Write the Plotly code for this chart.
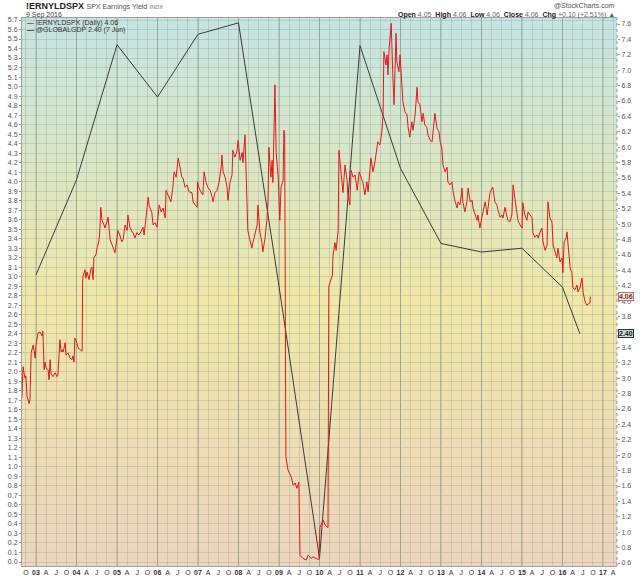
import plotly.graph_objects as go

# !ERNYLDSPX - SPX earnings yield, daily (right scale); dates are decimal years
eyield_dates = [
    2002.65, 2002.68, 2002.70, 2002.73, 2002.75, 2002.78, 2002.83, 2002.85, 2002.88, 2002.90, 2002.93, 2002.98,
    2003.00, 2003.05, 2003.10, 2003.15, 2003.17, 2003.20, 2003.22, 2003.25, 2003.30, 2003.32, 2003.35, 2003.37,
    2003.42, 2003.47, 2003.52, 2003.54, 2003.59, 2003.62, 2003.64, 2003.67, 2003.72, 2003.74, 2003.79, 2003.84,
    2003.89, 2003.91, 2003.94, 2003.96,
    2004.01, 2004.04, 2004.09, 2004.14, 2004.15, 2004.16, 2004.21, 2004.23, 2004.26, 2004.31, 2004.36, 2004.38,
    2004.41, 2004.43, 2004.48, 2004.51, 2004.55, 2004.57, 2004.60, 2004.63, 2004.68, 2004.70, 2004.75, 2004.78,
    2004.83, 2004.88, 2004.93, 2004.95,
    2005.00, 2005.02, 2005.07, 2005.12, 2005.15, 2005.20, 2005.25, 2005.27, 2005.32, 2005.37, 2005.40, 2005.44,
    2005.49, 2005.54, 2005.59, 2005.64, 2005.67, 2005.72, 2005.77, 2005.79, 2005.86, 2005.89, 2005.94, 2005.99,
    2006.04, 2006.09, 2006.14, 2006.19, 2006.21, 2006.26, 2006.33, 2006.38, 2006.41, 2006.46, 2006.51, 2006.56,
    2006.60, 2006.63, 2006.68, 2006.73, 2006.78, 2006.85, 2006.88, 2006.93, 2006.98, 2006.99,
    2007.02, 2007.07, 2007.12, 2007.15, 2007.20, 2007.25, 2007.30, 2007.35, 2007.37, 2007.42, 2007.47, 2007.52,
    2007.57, 2007.59, 2007.62, 2007.67, 2007.72, 2007.74, 2007.79, 2007.84, 2007.86, 2007.91, 2007.96, 2007.99,
    2008.04, 2008.09, 2008.11, 2008.16, 2008.21, 2008.23, 2008.28, 2008.33, 2008.36, 2008.41, 2008.46, 2008.48,
    2008.53, 2008.58, 2008.60, 2008.65, 2008.70, 2008.73, 2008.75, 2008.80, 2008.83, 2008.85, 2008.88, 2008.90,
    2008.93, 2008.95, 2008.98,
    2009.02, 2009.05, 2009.10, 2009.12, 2009.14, 2009.15, 2009.17, 2009.22, 2009.30, 2009.35, 2009.40, 2009.44,
    2009.49, 2009.52, 2009.59, 2009.67, 2009.72, 2009.79, 2009.84, 2009.94, 2009.99,
    2010.01, 2010.09, 2010.14, 2010.21, 2010.23, 2010.28, 2010.32, 2010.33, 2010.38, 2010.41, 2010.43, 2010.46,
    2010.48, 2010.53, 2010.56, 2010.58, 2010.63, 2010.68, 2010.70, 2010.75, 2010.78, 2010.83, 2010.88, 2010.93,
    2010.98,
    2011.00, 2011.05, 2011.07, 2011.12, 2011.17, 2011.20, 2011.27, 2011.32, 2011.37, 2011.42, 2011.44, 2011.49,
    2011.54, 2011.57, 2011.59, 2011.64, 2011.67, 2011.69, 2011.72, 2011.77, 2011.79, 2011.81, 2011.84, 2011.86,
    2011.89, 2011.91, 2011.96, 2011.99,
    2012.04, 2012.06, 2012.11, 2012.16, 2012.19, 2012.23, 2012.28, 2012.31, 2012.36, 2012.41, 2012.43, 2012.48,
    2012.53, 2012.56, 2012.60, 2012.65, 2012.68, 2012.73, 2012.78, 2012.80, 2012.85, 2012.90, 2012.95, 2012.98,
    2013.02, 2013.05, 2013.10, 2013.15, 2013.17, 2013.22, 2013.27, 2013.30, 2013.35, 2013.40, 2013.42, 2013.47,
    2013.52, 2013.54, 2013.59, 2013.64, 2013.67, 2013.72, 2013.77, 2013.79, 2013.84, 2013.89, 2013.91, 2013.96,
    2014.01, 2014.04, 2014.09, 2014.14, 2014.16, 2014.21, 2014.26, 2014.28, 2014.33, 2014.38, 2014.41, 2014.46,
    2014.51, 2014.53, 2014.58, 2014.63, 2014.65, 2014.70, 2014.75, 2014.78, 2014.83, 2014.88, 2014.90, 2014.95,
    2015.00, 2015.02, 2015.07, 2015.12, 2015.15, 2015.20, 2015.25, 2015.27, 2015.32, 2015.37, 2015.40, 2015.44,
    2015.49, 2015.52, 2015.57, 2015.62, 2015.64, 2015.69, 2015.74, 2015.77, 2015.81, 2015.86, 2015.89, 2015.94,
    2015.99,
    2016.01, 2016.04, 2016.09, 2016.11, 2016.14, 2016.19, 2016.23, 2016.26, 2016.31, 2016.36, 2016.38, 2016.43,
    2016.48, 2016.51, 2016.56, 2016.60, 2016.63, 2016.68, 2016.69,
]
eyield_values = [
    2.74, 3.15, 3.08, 3.00, 3.03, 2.76, 2.67, 2.72, 3.33, 3.39, 3.43, 3.26,
    3.43, 3.59, 3.60, 3.55, 3.61, 3.11, 3.21, 3.13, 3.11, 2.98, 3.24, 3.06,
    3.02, 3.07, 3.02, 3.04, 3.50, 3.34, 3.37, 3.34, 3.46, 3.30, 3.33, 3.26,
    3.24, 3.29, 3.21, 3.52,
    3.46, 3.39, 3.37, 3.35, 4.25, 4.32, 4.41, 4.30, 4.38, 4.28, 4.43, 4.44,
    4.28, 4.57, 4.60, 4.70, 4.77, 4.86, 5.22, 5.05, 4.99, 4.95, 5.03, 5.09,
    4.80, 4.73, 4.66, 4.63,
    4.82, 4.92, 4.86, 4.77, 4.80, 4.99, 4.92, 5.12, 4.96, 4.90, 4.89, 4.82,
    4.89, 4.86, 4.90, 4.96, 4.86, 5.16, 5.35, 5.25, 5.15, 4.99, 5.02, 4.96,
    5.25, 5.16, 5.21, 5.08, 5.44, 5.38, 5.29, 5.48, 5.68, 5.61, 5.86, 5.73,
    5.61, 5.60, 5.48, 5.51, 5.42, 5.41, 5.29, 5.25, 5.22, 5.55,
    5.48, 5.42, 5.38, 5.68, 5.54, 5.47, 5.44, 5.35, 5.29, 5.41, 5.44, 5.54,
    5.73, 5.90, 5.68, 5.61, 5.47, 5.31, 5.54, 5.64, 5.96, 5.87, 5.94, 6.09,
    5.83, 5.93, 5.80, 6.16, 5.05, 4.92, 4.80, 4.69, 4.77, 4.89, 4.99, 5.25,
    4.89, 4.76, 4.64, 4.80, 5.05, 5.31, 6.00, 5.61, 5.83, 5.54, 6.26, 6.81,
    5.93, 5.83, 5.61,
    5.05, 5.48, 5.57, 6.22, 6.18, 2.55, 1.98, 1.81, 1.72, 1.61, 1.64, 1.57,
    1.65, 0.70, 0.66, 0.64, 0.70, 0.66, 0.68, 0.65, 0.65,
    1.06, 1.16, 1.09, 1.06, 4.19, 4.28, 4.34, 4.57, 4.76, 4.66, 4.80, 4.92,
    5.96, 5.70, 5.57, 5.41, 5.77, 5.57, 5.38, 5.25, 5.70, 5.61, 5.64, 5.44,
    5.68,
    5.64, 5.57, 5.55, 5.38, 5.55, 5.42, 5.86, 5.68, 5.81, 5.99, 6.07, 6.03,
    6.20, 6.42, 7.24, 7.07, 7.20, 6.94, 7.29, 7.61, 7.11, 6.94, 6.55, 6.85,
    7.48, 7.11, 6.98, 7.20,
    6.81, 6.59, 6.46, 6.42, 6.25, 6.13, 6.33, 6.22, 6.42, 6.78, 6.59, 6.55,
    6.33, 6.44, 6.29, 6.26, 6.16, 6.09, 6.07, 6.16, 6.44, 6.25, 6.20, 6.07,
    5.99, 5.77, 5.68, 5.74, 5.55, 5.51, 5.55, 5.42, 5.29, 5.21, 5.29, 5.25,
    5.47, 5.29, 5.16, 5.29, 5.47, 5.29, 5.31, 5.21, 5.12, 5.05, 5.12, 4.95,
    5.09, 5.16, 5.29, 5.12, 5.21, 5.41, 5.47, 5.48, 5.29, 5.25, 5.18, 5.09,
    5.12, 5.08, 5.22, 5.12, 5.05, 5.03, 5.12, 5.51, 5.29, 5.12, 5.05, 4.99,
    4.95, 5.28, 5.12, 5.05, 5.16, 5.12, 5.08, 4.89, 4.83, 4.86, 4.82, 4.89,
    4.95, 4.77, 4.66, 4.73, 5.29, 5.08, 5.03, 4.73, 4.64, 4.56, 4.69, 4.51,
    4.56,
    4.37, 4.77, 4.82, 4.90, 4.69, 4.43, 4.37, 4.17, 4.15, 4.21, 4.12, 4.17,
    4.30, 4.11, 3.99, 3.95, 3.96, 3.98, 4.06,
]

# @GLOBALGDP (left scale), one point per year, last one 7 Jun 2016
gdp_dates = [2003.0, 2004.0, 2005.0, 2006.0, 2007.0, 2008.0, 2009.0, 2010.0,
             2011.0, 2012.0, 2013.0, 2014.0, 2015.0, 2016.0, 2016.43]
gdp_values = [3.02, 4.02, 5.44, 4.89, 5.55, 5.67, 2.90, 0.04,
              5.43, 4.14, 3.35, 3.26, 3.30, 2.89, 2.40]

# x axis: quarterly labels, year labels in bold
first_year, last_year = 2002, 2017
month_letters = {0.25: "A", 0.5: "J", 0.75: "O"}

FONT = "Arial, Liberation Sans, sans-serif"
RED = "#e0191b"

tick_vals, tick_text = [], []
for yr in range(first_year, last_year + 1):
    for q in (0.0, 0.25, 0.5, 0.75):
        v = yr + q
        if v < 2002.7 or v > 2017.3:
            continue
        tick_vals.append(v)
        tick_text.append(f"<b>{yr % 100:02d}</b>" if q == 0 else month_letters[q])

left_ticks = [round(i * 0.1, 1) for i in range(58)]
right_ticks = [round(0.6 + i * 0.2, 1) for i in range(36)]
# the 2.40 value tag sits on top of the 3.6 label on the right scale
right_text = ["" if v == 3.6 else f"{v:.1f}" for v in right_ticks]

fig = go.Figure()
fig.add_trace(go.Scatter(x=eyield_dates, y=eyield_values, yaxis="y2", mode="lines",
                         line=dict(color=RED, width=1), hoverinfo="skip", showlegend=False))
fig.add_trace(go.Scatter(x=gdp_dates, y=gdp_values, mode="lines",
                         line=dict(color="#3a3a3a", width=1), hoverinfo="skip", showlegend=False))

# background gradient teal -> yellow -> peach (paper units, bottom to top)
stops = [(0.0, (236, 212, 190)), (0.48, (240, 231, 168)), (1.0, (197, 228, 227))]


def grad(t):
    for (t0, c0), (t1, c1) in zip(stops, stops[1:]):
        if t0 <= t <= t1:
            f = (t - t0) / (t1 - t0)
            return "rgb(%d,%d,%d)" % tuple(round(a + (b - a) * f) for a, b in zip(c0, c1))
    return "rgb(%d,%d,%d)" % stops[-1][1]


shapes = []
n = 90
for i in range(n):
    shapes.append(dict(type="rect", xref="paper", yref="paper", x0=0, x1=1,
                       y0=i / n, y1=(i + 1) / n + 0.002, fillcolor=grad((i + 0.5) / n),
                       line=dict(width=0), layer="below"))
for yr in range(2003, 2018):
    shapes.append(dict(type="line", xref="x", yref="paper", x0=yr, x1=yr, y0=0, y1=1,
                       line=dict(color="rgba(120,135,120,0.55)", width=1), layer="between"))
shapes.append(dict(type="line", xref="paper", yref="paper", x0=1, x1=1, y0=0, y1=1,
                   line=dict(color="#7d9db3", width=1, dash="dot"), layer="above"))

# layout helpers: pixel position -> paper coordinates (plot 22..617 x 18..566)
L, R, T, B = 22, 617, 18, 566


def px(x):
    return (x - L) / (R - L)


def py(y):
    return (B - y) / (B - T)


small = dict(family=FONT, size=7, color="#333")
annotations = [
    dict(x=px(24), y=py(6), text="<b>!ERNYLDSPX</b> <span style='color:#555;font-size:7px'>SPX Earnings Yield</span>"
         " <span style='color:#777;font-size:5.5px'>INDX</span>", font=dict(family=FONT, size=9, color="#222")),
    dict(x=px(24), y=py(15), text="9 Sep 2016", font=dict(family=FONT, size=7, color="#444")),
    dict(x=px(617), y=py(6), xanchor="right", text="@StockCharts.com", font=dict(family=FONT, size=7, color="#555")),
    dict(x=px(617), y=py(15), xanchor="right",
         text="<b>Open</b> <span style='color:#666'>4.05</span>  <b>High</b> <span style='color:#666'>4.06</span>"
              "  <b>Low</b> <span style='color:#666'>4.06</span>  <b>Close</b> <span style='color:#666'>4.06</span>"
              "  <b>Chg</b> <span style='color:#666'>+0.10 (+2.51%)</span> <span style='color:#1a8a2a'>▲</span>",
         font=dict(family=FONT, size=7, color="#222")),
    dict(x=px(25), y=py(23), text=f"<span style='color:{RED}'><b>—</b></span> !ERNYLDSPX (Daily) 4.06", font=small),
    dict(x=px(25), y=py(30), text="<span style='color:#333'><b>—</b></span> @GLOBALGDP 2.40 (7 Jun)", font=small),
    dict(x=1, xshift=1, y=4.06, yref="y2", text="<b>4.06</b>", font=dict(family=FONT, size=7, color="#444"),
         bgcolor="#fbeeee", bordercolor="#e06060", borderwidth=1, borderpad=0),
    dict(x=1, xshift=1, y=2.40, yref="y", text="<b>2.40</b>", font=dict(family=FONT, size=7, color="#222"),
         bgcolor="#b9dde0", bordercolor="#333", borderwidth=1, borderpad=0),
]
for a in annotations:
    a.setdefault("xref", "paper")
    a.setdefault("yref", "paper")
    a.setdefault("xanchor", "left")
    a.setdefault("yanchor", "middle")
    a["showarrow"] = False

grid = "rgba(140,155,140,0.32)"
fig.update_layout(
    width=640, height=576,
    margin=dict(l=L, r=640 - R, t=T, b=576 - B, autoexpand=False),
    paper_bgcolor="white", plot_bgcolor="rgba(0,0,0,0)",
    font=dict(family=FONT, size=7, color="#555"),
    xaxis=dict(range=[2002.654, 2017.346], tickmode="array", tickvals=tick_vals, ticktext=tick_text,
               showgrid=True, gridcolor=grid, gridwidth=1, zeroline=False, ticks="", automargin=False,
               tickfont=dict(size=7, color="#333"), showline=True, linecolor="#a0a0a0", mirror=True,
               tickangle=0),
    yaxis=dict(range=[-0.042, 5.721], tickmode="array", tickvals=left_ticks, automargin=False,
               ticktext=[f"{v:.1f}" for v in left_ticks], showgrid=True, gridcolor=grid, gridwidth=1,
               zeroline=False, ticks="outside", ticklen=2, tickcolor="#999",
               showline=True, linecolor="#a0a0a0", tickfont=dict(size=7, color="#555")),
    yaxis2=dict(range=[0.561, 7.678], overlaying="y", side="right", tickmode="array", tickvals=right_ticks,
                ticktext=right_text, showgrid=False, zeroline=False, automargin=False,
                ticks="outside", ticklen=2, tickcolor="#7d9db3", tickfont=dict(size=7, color="#555")),
    shapes=shapes, annotations=annotations,
    hovermode=False, showlegend=False,
)

fig.write_html("out.html", config={"displayModeBar": False},
               post_script="document.body.style.margin='0';")
